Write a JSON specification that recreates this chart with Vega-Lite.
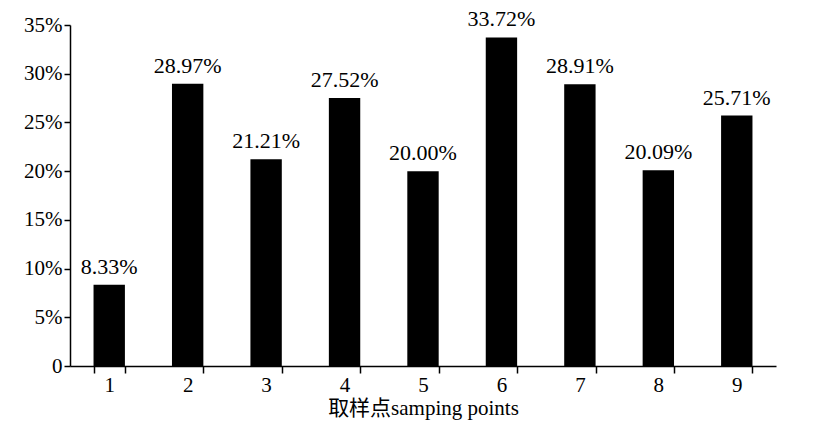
{
  "$schema": "https://vega.github.io/schema/vega-lite/v6.json",
  "autosize": "none",
  "padding": {"left": 70, "top": 25, "right": 55, "bottom": 65},
  "width": 706,
  "height": 341,
  "background": "white",
  "data": {"values": [
    {"point": "1", "value": 8.33, "label": "8.33%"},
    {"point": "2", "value": 28.97, "label": "28.97%"},
    {"point": "3", "value": 21.21, "label": "21.21%"},
    {"point": "4", "value": 27.52, "label": "27.52%"},
    {"point": "5", "value": 20.00, "label": "20.00%"},
    {"point": "6", "value": 33.72, "label": "33.72%"},
    {"point": "7", "value": 28.91, "label": "28.91%"},
    {"point": "8", "value": 20.09, "label": "20.09%"},
    {"point": "9", "value": 25.71, "label": "25.71%"}
  ]},
  "config": {
    "view": {"stroke": null},
    "font": "Times New Roman, Liberation Serif, serif",
    "text": {"font": "Times New Roman, Liberation Serif, serif"},
    "axis": {"grid": false, "domainColor": "black", "tickColor": "black", "labelColor": "black", "titleColor": "black", "domainWidth": 1.5, "tickWidth": 1.5, "labelFont": "Times New Roman, Liberation Serif, serif", "labelFontSize": 21, "titleFontWeight": "normal"}
  },
  "encoding": {
    "x": {"field": "point", "type": "nominal", "sort": null,
      "scale": {"paddingInner": 0.6, "paddingOuter": 0.3},
      "axis": {"labelAngle": 0, "tickBand": "extent", "tickSize": 7, "labelPadding": 1, "title": "取样点samping points", "titleFontSize": 21, "titleFont": "Times New Roman, Liberation Serif, Noto Sans CJK SC, serif", "titlePadding": 2}},
    "y": {"field": "value", "type": "quantitative",
      "scale": {"domain": [0, 35], "nice": false},
      "axis": {"values": [0, 5, 10, 15, 20, 25, 30, 35], "title": null, "tickSize": 6, "labelPadding": 2, "labelExpr": "datum.value == 0 ? '0' : datum.value + '%'"}}
  },
  "layer": [
    {"mark": {"type": "bar", "color": "black"}},
    {"mark": {"type": "text", "baseline": "alphabetic", "dy": -11, "fontSize": 22, "font": "Times New Roman, Liberation Serif, serif", "color": "black"},
     "encoding": {"text": {"field": "label", "type": "nominal"}}}
  ]
}
